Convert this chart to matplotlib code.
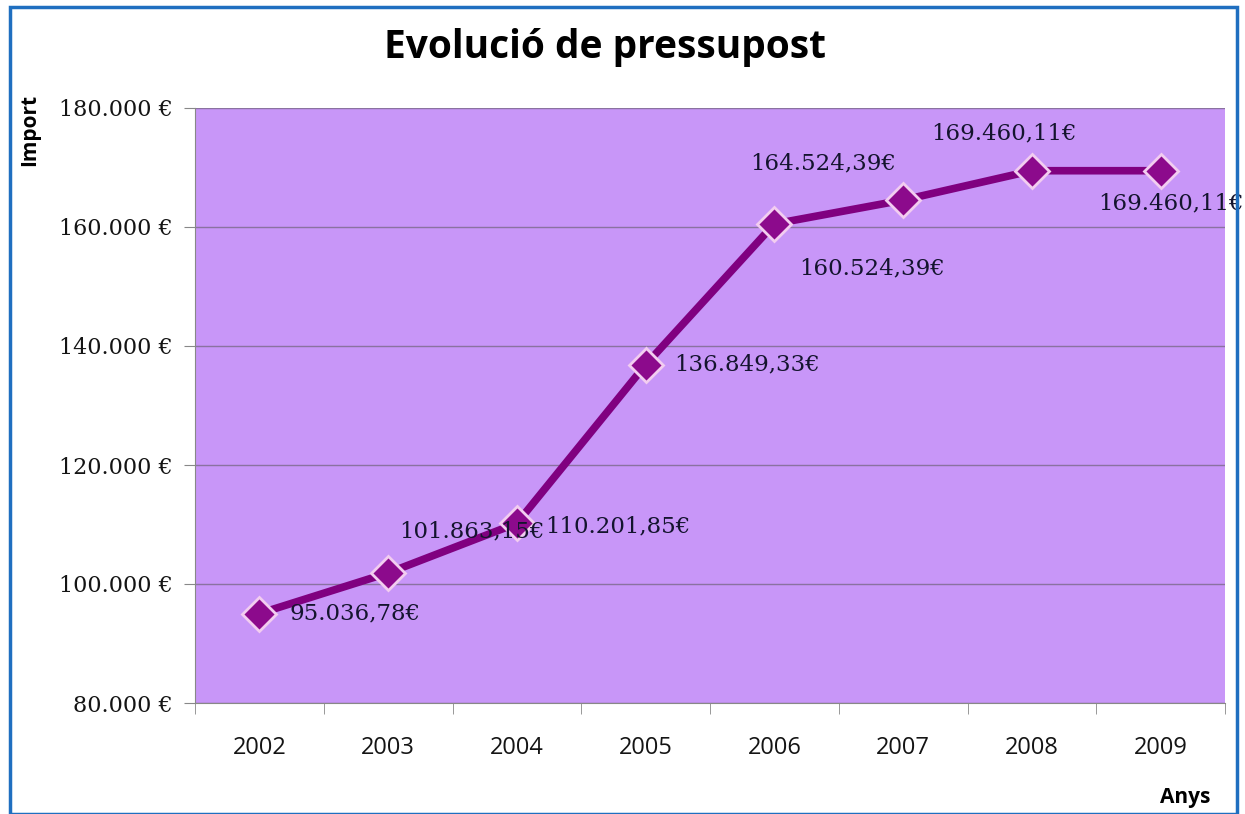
import numpy as np
import matplotlib.pyplot as plt
from matplotlib.patches import Rectangle

# dades
anys = ['2002', '2003', '2004', '2005', '2006', '2007', '2008', '2009']
imports = [95036.78, 101863.15, 110201.85, 136849.33, 160524.39, 164524.39, 169460.11, 169460.11]
yticks = [80000, 100000, 120000, 140000, 160000, 180000]

# on va cada etiqueta (desplaçament en pixels i alineacio)
offsets = [(30, 0, 'left'), (84, 41, 'center'), (28, -3, 'left'), (29, 0, 'left'),
           (25, -45, 'left'), (-7, 37, 'right'), (-28, 37, 'center'), (10, -33, 'center')]


def euro(v, dec=2):
    s = f"{v:,.{dec}f}".replace(",", "X").replace(".", ",").replace("X", ".")
    return s


fig = plt.figure(figsize=(12.45, 8.14), dpi=100)
fig.patch.set_facecolor('white')
fig.patches.append(Rectangle((10 / 1245, 0), 1227 / 1245, 807 / 814, transform=fig.transFigure,
                             fill=False, edgecolor='#1f6fc0', linewidth=2.5))

ax = fig.add_axes([195 / 1245, 1 - 703 / 814, 1030 / 1245, 595 / 814])
ax.set_facecolor('#c896f8')

x = np.arange(len(anys))
ax.plot(x, imports, color='#800080', linewidth=5.5, zorder=3,
        marker='D', markersize=17, markerfacecolor='#8c0a8c',
        markeredgecolor='#f2cdf0', markeredgewidth=2)

for i, v in enumerate(imports):
    dx, dy, ha = offsets[i]
    ax.annotate(euro(v) + '€', (i, v), xytext=(dx, dy), textcoords='offset pixels',
                ha=ha, va='center', fontsize=16.5, family='DejaVu Serif',
                color='#14142e', zorder=4)

ax.set_xlim(-0.5, len(anys) - 0.5)
ax.set_ylim(80000, 180000)
ax.set_yticks(yticks)
ax.set_yticklabels([euro(t, 0) + ' €' for t in yticks], family='DejaVu Serif',
                   fontsize=16, color='#141414')
ax.set_xticks(x)
ax.set_xticklabels(anys, family='Open Sans', fontsize=17, color='#141414')
ax.set_xticks(np.arange(-0.5, len(anys), 1), minor=True)
ax.tick_params(axis='x', which='major', length=0, pad=24)
ax.tick_params(axis='x', which='minor', length=8, color='#888888', direction='out')
ax.tick_params(axis='y', length=8, color='#888888', pad=8)

ax.grid(axis='y', color='#8a72a0', linewidth=1)
ax.set_axisbelow(True)
for s in ['top', 'right']:
    ax.spines[s].set_visible(False)
for s in ['left', 'bottom']:
    ax.spines[s].set_color('#888888')

fig.text(0.486, 0.942, 'Evolució de pressupost', ha='center', va='center',
         fontsize=28, fontweight='bold', family='Open Sans')
fig.text(30 / 1245, 1 - 130 / 814, 'Import', rotation=90, ha='center', va='center',
         fontsize=15, fontweight='bold', family='Open Sans')
fig.text(1185 / 1245, 1 - 797 / 814, 'Anys', ha='center', va='center',
         fontsize=15, fontweight='bold', family='Open Sans')

fig.savefig('out.png', dpi=100)
